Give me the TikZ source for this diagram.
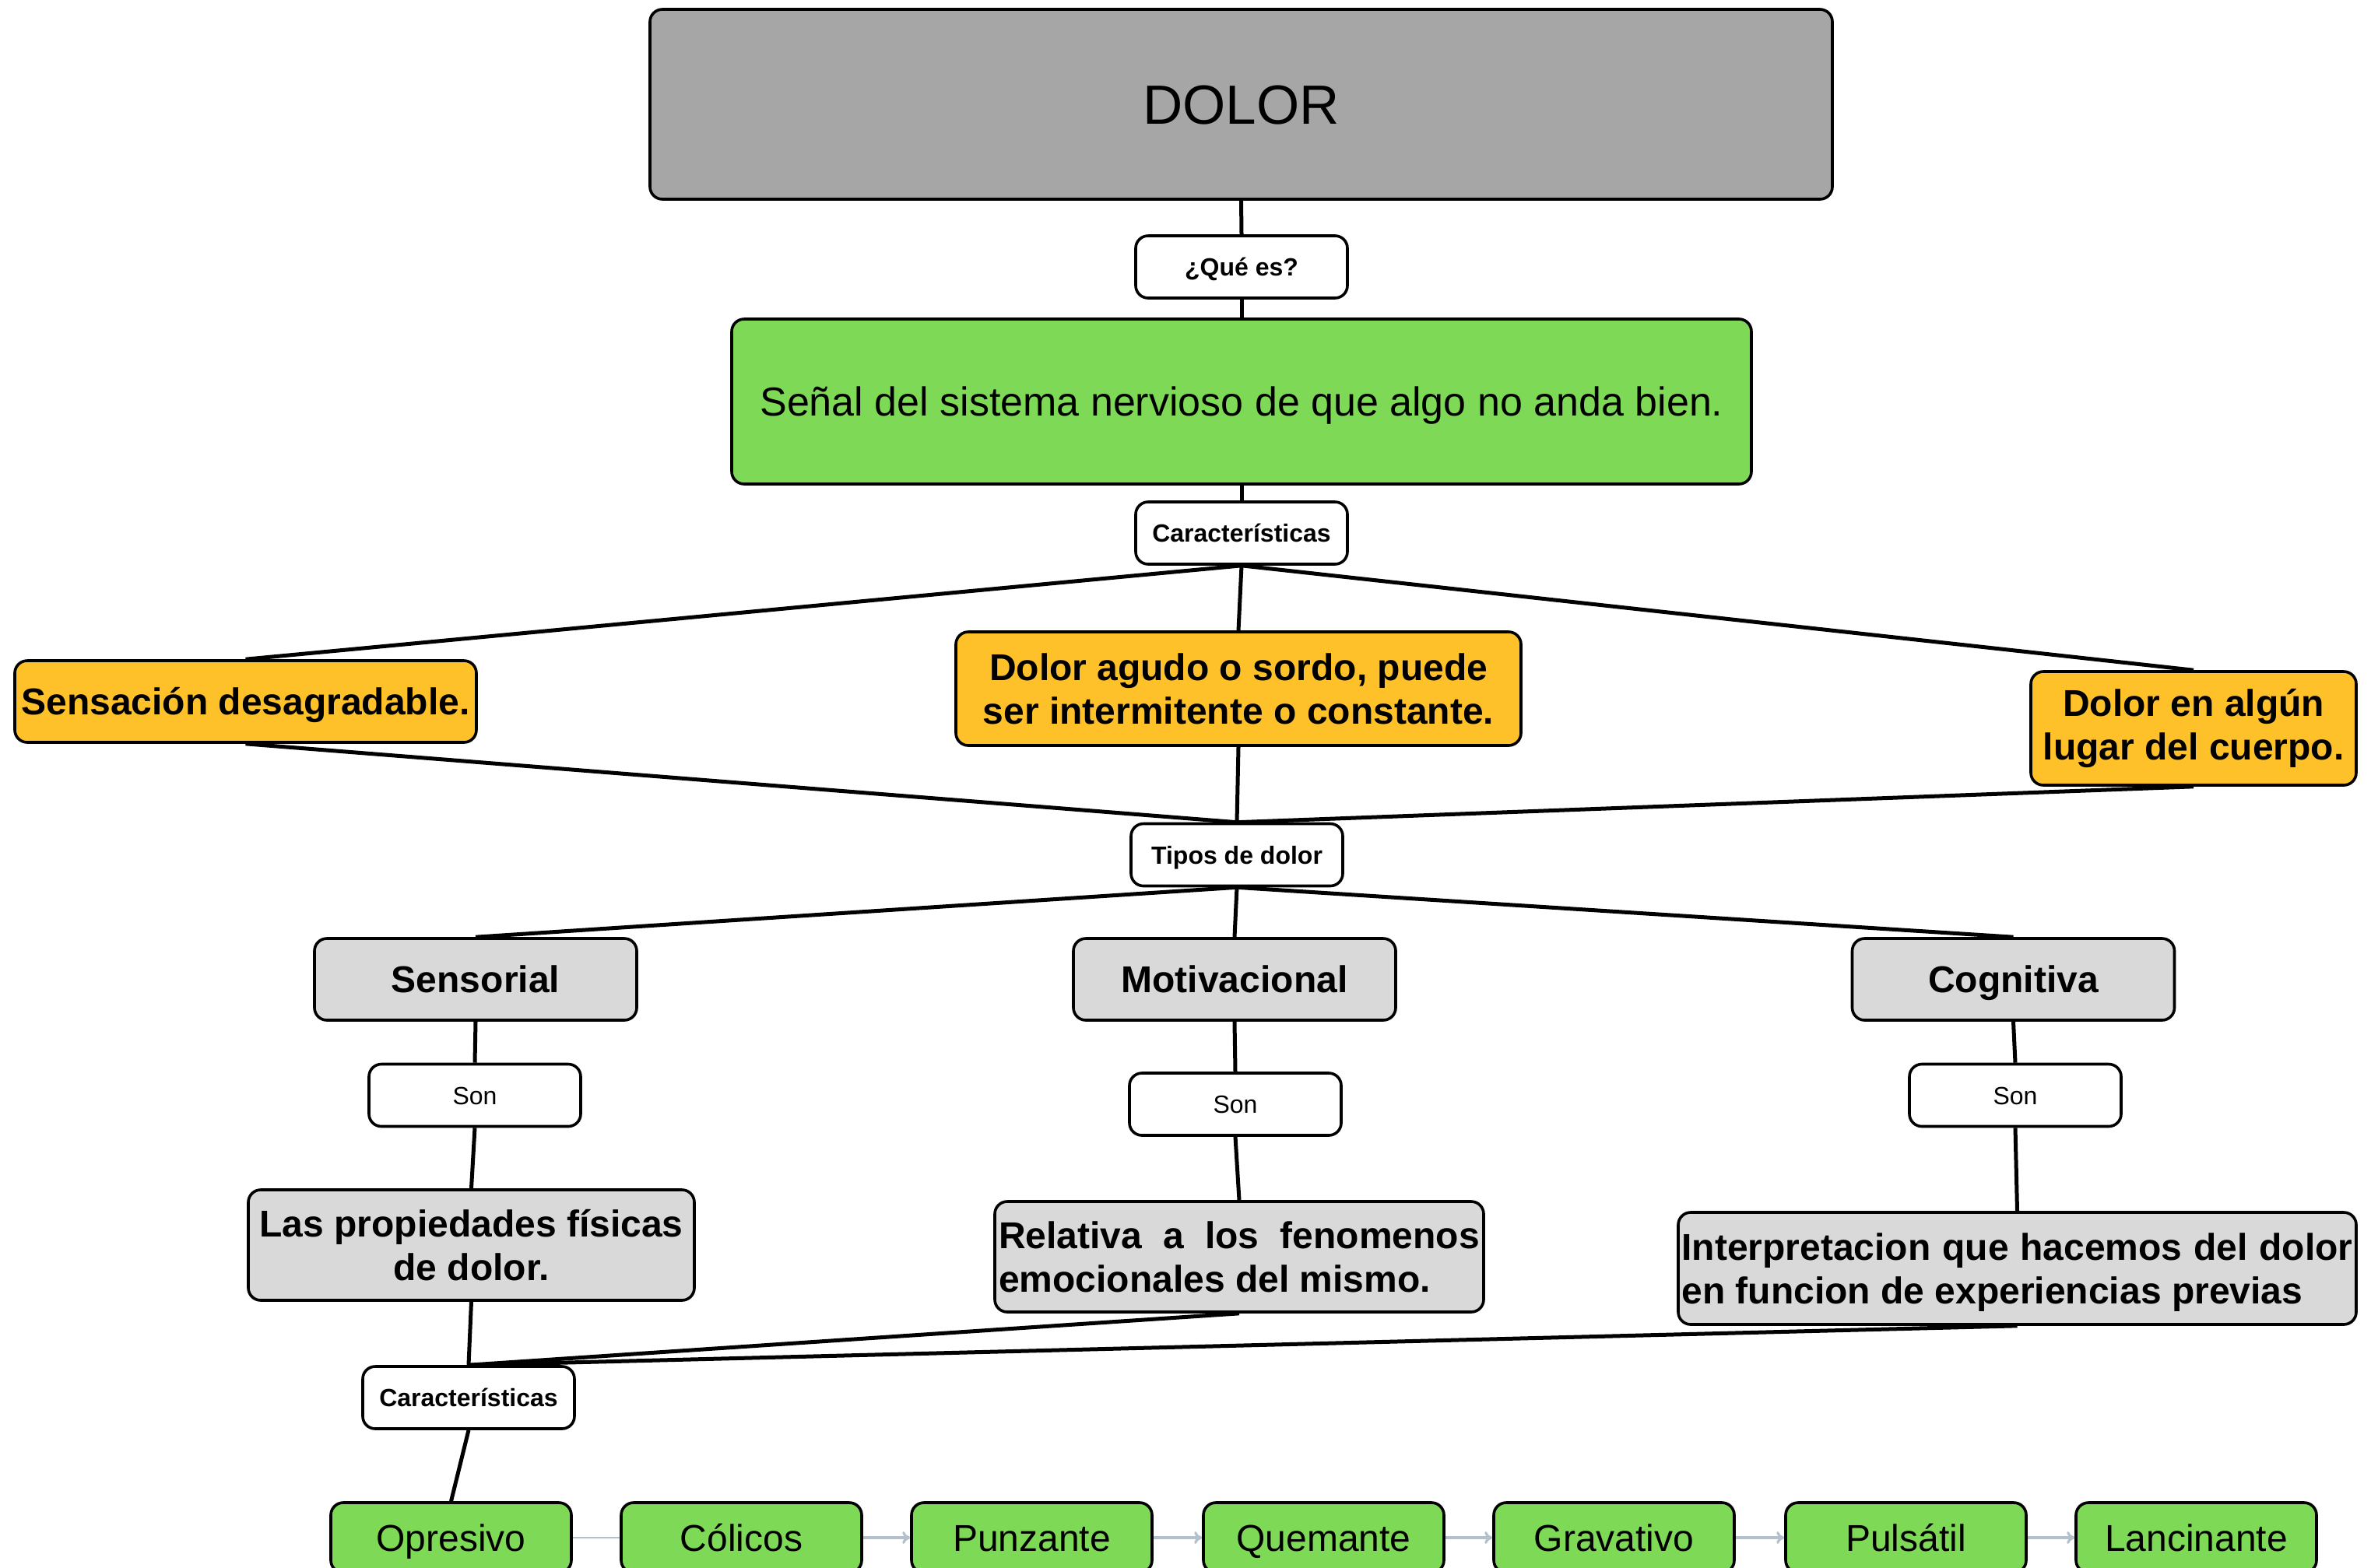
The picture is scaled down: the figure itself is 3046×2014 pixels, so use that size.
\documentclass[tikz,border=0pt]{standalone}
\usepackage{fontspec}
\setmainfont{Liberation Sans}
\usetikzlibrary{arrows.meta}
\definecolor{dgrey}{HTML}{A6A6A6}
\definecolor{lgrey}{HTML}{D9D9D9}
\definecolor{mygreen}{HTML}{7ED957}
\definecolor{myorange}{HTML}{FEC12A}
\definecolor{arrowc}{HTML}{B4C0CB}
\tikzset{
  base/.style={draw=black, line width=1.8pt, rounded corners=8pt, align=center, inner sep=1pt},
  lineS/.style={text height=14.9pt, text depth=3.4pt},
  lineM/.style={text height=22.3pt, text depth=5pt},
  lbl/.style={base, lineS, fill=white, font=\fontsize{16}{19}\selectfont\bfseries, minimum width=136pt, minimum height=40pt},
  sonlbl/.style={base, lineS, fill=white, font=\fontsize{16}{19}\selectfont, minimum width=136pt, minimum height=40pt},
  orange/.style={base, fill=myorange, font=\fontsize{24}{28}\selectfont\bfseries},
  grey/.style={base, fill=lgrey, font=\fontsize{24}{28}\selectfont\bfseries},
  leaf/.style={base, lineM, fill=mygreen, font=\fontsize{24}{28}\selectfont, minimum width=154.5pt, minimum height=45pt},
  conn/.style={line width=2.5pt, black},
  flow/.style={line width=1.6pt, arrowc, -{To[length=5pt,width=8pt]}}
}
\begin{document}
\begin{tikzpicture}[x=0.5pt,y=-0.5pt]
\useasboundingbox[fill=white] (0,0) rectangle (3046,2014);
% main
\node[base, text height=33pt, text depth=7.5pt, fill=dgrey, font=\fontsize{35.5}{40}\selectfont, minimum width=759.5pt, minimum height=122pt] (dolor) at (1594.5,134) {DOLOR};
\node[lbl] (que) at (1595,343) {¿Qué es?};
\node[base, text height=24.2pt, text depth=5.5pt, fill=mygreen, font=\fontsize{26}{30}\selectfont, minimum width=655pt, minimum height=106pt] (senal) at (1595,516) {Señal del sistema nervioso de que algo no anda bien.};
\node[lbl] (car1) at (1595,685) {Características};
% characteristics
\node[orange, lineM, minimum width=296.5pt, minimum height=52.5pt] (sens) at (315.5,901.5) {Sensación desagradable.};
\node[orange, minimum width=363pt, minimum height=73pt] (agudo) at (1591,885) {Dolor agudo o sordo, puede\\ser intermitente o constante.};
\node[orange, minimum width=209pt, minimum height=73pt] (lugar) at (2818,936) {Dolor en algún\\lugar del cuerpo.};
\node[lbl] (tipos) at (1589,1098.5) {Tipos de dolor};
% types
\node[grey, lineM, minimum width=207pt, minimum height=52.5pt] (sensorial) at (611,1258.5) {Sensorial};
\node[grey, lineM, minimum width=207pt, minimum height=52.5pt] (motiv) at (1586,1258.5) {Motivacional};
\node[grey, lineM, minimum width=207pt, minimum height=52.5pt] (cogn) at (2586.5,1258.5) {Cognitiva};
\node[sonlbl] (son1) at (610,1407.5) {Son};
\node[sonlbl] (son2) at (1587,1419) {Son};
\node[sonlbl] (son3) at (2589,1407.5) {Son};
\node[grey, minimum width=286.5pt, minimum height=71pt] (prop) at (605.5,1600) {Las propiedades físicas\\de dolor.};
\node[grey, minimum width=314pt, minimum height=71pt, text width=309pt, align=justify] (rel) at (1592,1615) {Relativa a los fenomenos emocionales del mismo.};
\node[grey, minimum width=435.5pt, minimum height=72pt, text width=431pt, align=justify] (interp) at (2591.5,1630) {\rule{0pt}{22.3pt}Interpretacion que hacemos del dolor en funcion de experiencias previas};
\node[lbl] (car2) at (602,1796) {Características};
% leaves
\node[leaf] (l1) at (579.5,1976) {Opresivo};
\node[leaf] (l2) at (952.5,1976) {Cólicos};
\node[leaf] (l3) at (1325.5,1976) {Punzante};
\node[leaf] (l4) at (1700.5,1976) {Quemante};
\node[leaf] (l5) at (2073.5,1976) {Gravativo};
\node[leaf] (l6) at (2448.5,1976) {Pulsátil};
\node[leaf] (l7) at (2821.5,1976) {Lancinante};
% connectors
\draw[conn] (dolor.south) -- (que.north);
\draw[conn] (que.south) -- (senal.north);
\draw[conn] (senal.south) -- (car1.north);
\draw[conn] (car1.south) -- (sens.north);
\draw[conn] (car1.south) -- (agudo.north);
\draw[conn] (car1.south) -- (lugar.north);
\draw[conn] (sens.south) -- (tipos.north);
\draw[conn] (agudo.south) -- (tipos.north);
\draw[conn] (lugar.south) -- (tipos.north);
\draw[conn] (tipos.south) -- (sensorial.north);
\draw[conn] (tipos.south) -- (motiv.north);
\draw[conn] (tipos.south) -- (cogn.north);
\draw[conn] (sensorial.south) -- (son1.north);
\draw[conn] (motiv.south) -- (son2.north);
\draw[conn] (cogn.south) -- (son3.north);
\draw[conn] (son1.south) -- (prop.north);
\draw[conn] (son2.south) -- (rel.north);
\draw[conn] (son3.south) -- (interp.north);
\draw[conn] (prop.south) -- (car2.north);
\draw[conn] (rel.south) -- (car2.north);
\draw[conn] (interp.south) -- (car2.north);
\draw[conn] (car2.south) -- (l1.north);
\draw[line width=1pt, arrowc] (l1.east) -- (l2.west);
\draw[flow] (l2.east) -- (l3.west);
\draw[flow] (l3.east) -- (l4.west);
\draw[flow] (l4.east) -- (l5.west);
\draw[flow] (l5.east) -- (l6.west);
\draw[flow] (l6.east) -- (l7.west);
\end{tikzpicture}
\end{document}
